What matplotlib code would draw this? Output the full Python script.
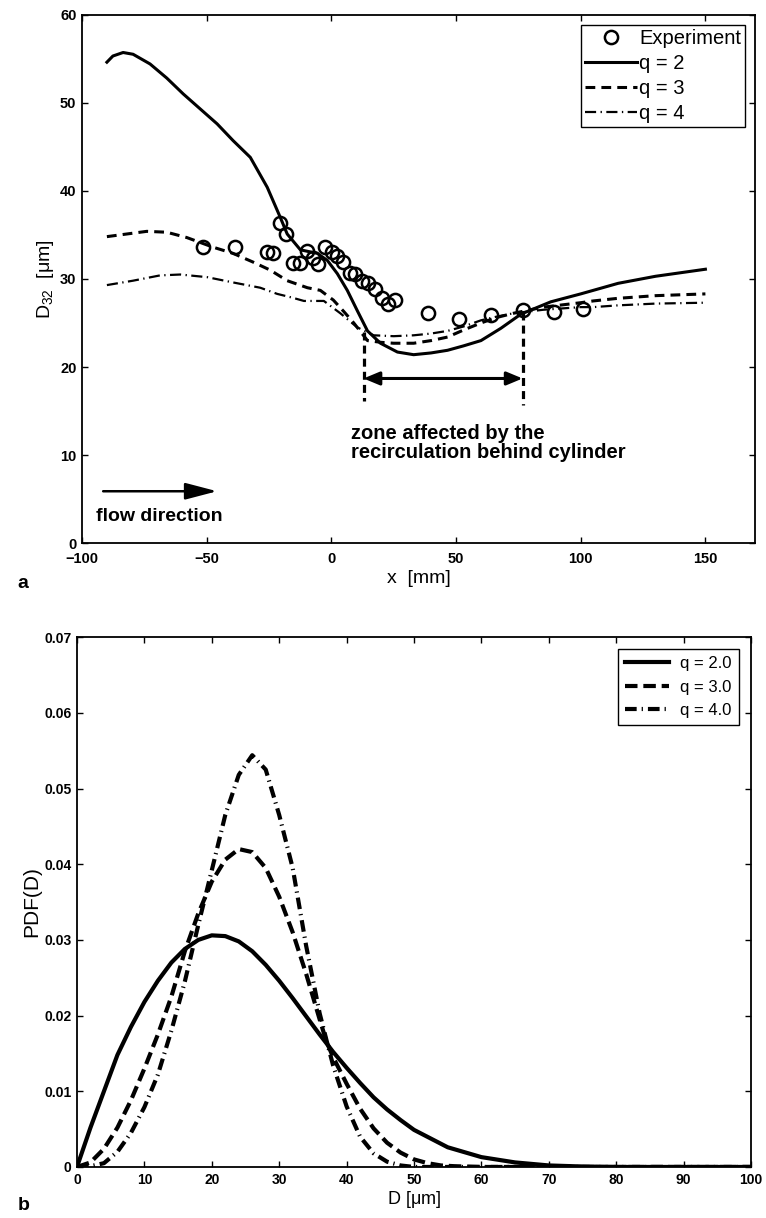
import numpy as np
import matplotlib
matplotlib.use("Agg")
import matplotlib.pyplot as plt

plt.rcParams['font.family'] = ['Liberation Sans', 'DejaVu Sans']
plt.rcParams['mathtext.fontset'] = 'custom'
plt.rcParams['mathtext.rm'] = 'Liberation Sans'
plt.rcParams['mathtext.it'] = 'Liberation Sans'

# --- panel a: Sauter mean diameter along the flow ---
x_q2 = [-90, -87.6, -83.5, -79.5, -72.7, -66, -59.4, -52.6, -45.8, -39.4, -32.5, -25.7, -20.5, -17.7,
        -12.4, -5.6, -1.6, 2.4, 6.4, 10.4, 14.5, 19.7, 26.5, 33, 40, 46.6, 53, 60, 68, 76, 88, 100, 105,
        115, 130, 150]
d32_q2 = [54.6, 55.3, 55.7, 55.5, 54.4, 52.8, 51.0, 49.3, 47.6, 45.7, 43.8, 40.4, 37.0, 35.1,
          33.3, 32.9, 32.1, 30.6, 28.7, 26.4, 24.1, 22.7, 21.7, 21.4, 21.6, 21.9, 22.4, 23.0, 24.4, 26.0, 27.4, 28.3, 28.7,
          29.5, 30.3, 31.1]

x_q3 = [-90, -82, -74, -66, -58, -47.4, -39.4, -31.3, -24.5, -17.7, -9.6, -4.4, 0.8, 5, 9, 14.5, 20, 25,
        33, 40, 46.6, 53, 60, 66, 73, 85, 100, 105, 115, 130, 150]
d32_q3 = [34.8, 35.1, 35.4, 35.3, 34.7, 33.6, 32.9, 31.9, 31.0, 29.8, 29.0, 28.7, 27.6, 26.3, 25.0, 23.0, 22.8, 22.7,
          22.7, 23.0, 23.4, 24.2, 25.0, 25.6, 26.1, 26.8, 27.3, 27.5, 27.8, 28.1, 28.3]

x_q4 = [-90, -79.5, -68.7, -60.6, -49.8, -39.4, -28.5, -21.7, -16, -11, -3, 3.6, 10.4, 17, 25, 33,
        40, 46.6, 53, 60, 66, 73, 85, 100, 105, 115, 130, 150]
d32_q4 = [29.3, 29.8, 30.4, 30.5, 30.2, 29.6, 29.0, 28.3, 27.9, 27.5, 27.5, 26.1, 24.5, 23.6, 23.5, 23.6,
          23.8, 24.1, 24.6, 25.3, 25.7, 26.1, 26.5, 26.8, 26.8, 27.0, 27.2, 27.3]

x_exp = [-51.4, -38.6, -25.7, -23.3, -20.5, -18.0, -15.3, -12.4, -9.6, -7.2, -5.2, -2.4, 0.4, 2.4, 4.8, 7.6,
         9.6, 12.4, 14.9, 17.7, 20.5, 22.9, 25.7, 38.6, 51.0, 63.9, 76.7, 89.2, 101.0]
d32_exp = [33.6, 33.6, 33.0, 32.9, 36.3, 35.1, 31.8, 31.8, 33.2, 32.4, 31.7, 33.6, 33.0, 32.6, 31.9, 30.7,
           30.6, 29.8, 29.5, 28.9, 27.8, 27.2, 27.6, 26.1, 25.5, 25.9, 26.5, 26.2, 26.6]

zone_start, zone_end = 12.9, 76.7

# --- panel b: droplet size distributions ---
D_q2 = [0, 2, 4, 6, 8, 10, 12, 14, 16, 18, 20, 22, 24, 26, 28, 30, 32, 34, 36, 38, 40, 42, 44, 46, 48,
        50, 55, 60, 65, 70, 75, 80, 90, 100]
pdf_q2 = [0, 0.0052, 0.0100, 0.0148, 0.0185, 0.0218, 0.0246, 0.0270, 0.0288, 0.0300, 0.0306, 0.0305, 0.0298,
          0.0285, 0.0267, 0.0246, 0.0223, 0.0199, 0.0175, 0.0152, 0.0131, 0.0111, 0.0092, 0.0076, 0.0062,
          0.0049, 0.0026, 0.0013, 0.0006, 0.0002, 0.00006, 0, 0, 0]

D_q3 = [0, 2, 4, 6, 8, 10, 12, 14, 16, 18, 20, 22, 24, 26, 28, 30, 32, 34, 36, 37, 38, 40, 42, 44, 46, 48,
        50, 52, 54, 56, 60, 100]
pdf_q3 = [0, 0.0006, 0.0024, 0.0052, 0.0088, 0.0130, 0.0175, 0.0225, 0.0285, 0.0335, 0.0377, 0.0406, 0.0420,
          0.0416, 0.0395, 0.0357, 0.0310, 0.0255, 0.0195, 0.0166, 0.0145, 0.0110, 0.0077, 0.0051, 0.0032, 0.0019,
          0.0010, 0.0005, 0.0002, 0.0001, 0, 0]

D_q4 = [0, 2, 4, 6, 8, 10, 12, 14, 16, 18, 20, 22, 24, 26, 28, 30, 32, 34, 36, 37, 38, 40, 42, 44, 46, 48,
        50, 100]
pdf_q4 = [0, 0.0001, 0.0005, 0.0020, 0.0045, 0.0079, 0.0122, 0.0180, 0.0245, 0.0320, 0.0392, 0.0465, 0.0518,
          0.0544, 0.0525, 0.0465, 0.0395, 0.0292, 0.0203, 0.0168, 0.0134, 0.0080, 0.0040, 0.0018, 0.0007, 0.0002,
          0, 0]

fig = plt.figure(figsize=(7.66, 12.18), dpi=100)

ax1 = fig.add_axes([0.107, 0.554, 0.879, 0.434])
ax1.plot(x_exp, d32_exp, 'o', mfc='none', mec='k', ms=9.5, mew=1.8, label='Experiment')
ax1.plot(x_q2, d32_q2, '-', color='k', lw=2.2, label='q = 2')
ax1.plot(x_q3, d32_q3, color='k', lw=2.2, ls=(0, (3.2, 2.0)), label='q = 3')
ax1.plot(x_q4, d32_q4, color='k', lw=1.6, ls=(0, (5, 2, 0.6, 2)), label='q = 4')

# recirculation zone markers
ax1.plot([zone_start, zone_start], [24.0, 16.2], color='k', lw=2.3, ls=(0, (2.5, 1.6)))
ax1.plot([zone_end, zone_end], [26.3, 15.7], color='k', lw=2.3, ls=(0, (2.5, 1.6)))
ax1.annotate('', xy=(zone_start, 18.7), xytext=(zone_end, 18.7),
             arrowprops=dict(arrowstyle='<|-|>,head_length=0.6,head_width=0.25', color='k', lw=2.2,
                             mutation_scale=16, shrinkA=0, shrinkB=0))
ax1.text(8.0, 11.4, 'zone affected by the\nrecirculation behind cylinder',
         fontsize=14.5, fontweight='bold', ha='left', va='center', linespacing=1.0)

# flow direction arrow
ax1.annotate('', xy=(-45.8, 5.9), xytext=(-91.5, 5.9),
             arrowprops=dict(arrowstyle='-|>,head_length=0.65,head_width=0.17', color='k', lw=1.8,
                             mutation_scale=30, shrinkA=0, shrinkB=0))
ax1.text(-94.4, 3.0, 'flow direction', fontsize=14, fontweight='bold', ha='left', va='center')

ax1.set_xlim(-100, 170)
ax1.set_ylim(0, 60)
ax1.set_xticks([-100, -50, 0, 50, 100, 150])
ax1.set_yticks(range(0, 61, 10))
ax1.set_xticklabels(['\u2212100', '\u221250', '0', '50', '100', '150'])
ax1.set_xlabel('x  [mm]', fontsize=14, labelpad=3)
ax1.set_ylabel(r'D$_{32}$  [$\mu$m]', fontsize=14, labelpad=3)
leg1 = ax1.legend(loc='upper right', fontsize=14.5, handlelength=2.6, handletextpad=0.1,
                  borderpad=0.2, labelspacing=0.3, fancybox=False, framealpha=1, borderaxespad=0.5)
leg1.get_frame().set_edgecolor('k')
leg1.get_frame().set_linewidth(1.0)
fig.text(0.023, 0.521, 'a', fontsize=14, fontweight='bold', va='center')

ax2 = fig.add_axes([0.1005, 0.0419, 0.880, 0.435])
ax2.plot(D_q2, pdf_q2, '-', color='k', lw=3.0, label='q = 2.0')
ax2.plot(D_q3, pdf_q3, color='k', lw=3.0, ls=(0, (3.0, 1.4)), label='q = 3.0')
ax2.plot(D_q4, pdf_q4, color='k', lw=3.0, ls=(0, (2.8, 1.2, 0.3, 1.2)), label='q = 4.0')
ax2.set_xlim(0, 100)
ax2.set_ylim(0, 0.07)
ax2.set_xticks(range(0, 101, 10))
ax2.set_yticks([0, 0.01, 0.02, 0.03, 0.04, 0.05, 0.06, 0.07])
ax2.set_yticklabels(['0', '0.01', '0.02', '0.03', '0.04', '0.05', '0.06', '0.07'])
ax2.set_xlabel(r'D [$\mu$m]', fontsize=13, labelpad=2)
ax2.set_ylabel('PDF(D)', fontsize=15, labelpad=2)
leg2 = ax2.legend(loc='upper right', fontsize=12, handlelength=2.6, handletextpad=0.7,
                  borderpad=0.45, labelspacing=0.5, fancybox=False, framealpha=1, borderaxespad=0.7)
leg2.get_frame().set_edgecolor('k')
leg2.get_frame().set_linewidth(1.0)
fig.text(0.023, 0.01, 'b', fontsize=14, fontweight='bold', va='center')

for ax, fs, xpad in ((ax1, 10.5, 6), (ax2, 10, 4)):
    ax.tick_params(direction='in', top=True, right=True, length=4, width=1, pad=4)
    ax.tick_params(axis='x', pad=xpad)
    for lab in ax.get_xticklabels() + ax.get_yticklabels():
        lab.set_fontweight('bold')
        lab.set_fontsize(fs)
    for sp in ax.spines.values():
        sp.set_linewidth(1.3)

fig.savefig('out.png', dpi=100)
